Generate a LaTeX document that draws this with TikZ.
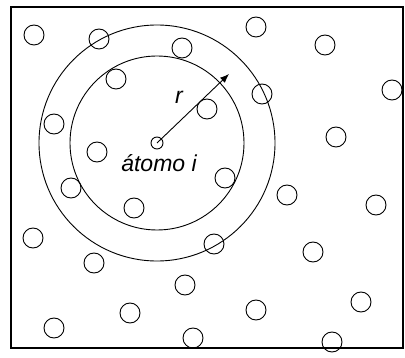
\documentclass[tikz,border=0pt]{standalone}
\usepackage{fontspec}
\newfontfamily\labelfont{Liberation Sans}
\usetikzlibrary{arrows.meta}

\begin{document}
\begin{tikzpicture}[
    x=1pt, y=-1pt,
    particle/.style={circle, draw, line width=0.9pt, minimum size=20pt, inner sep=0pt},
    central/.style={circle, draw, line width=0.9pt, minimum size=12pt, inner sep=0pt},
    shell/.style={draw, line width=0.9pt},
    arr/.style={-{Latex[length=9pt, width=7pt]}, line width=0.9pt},
    lbl/.style={font=\labelfont\itshape\fontsize{23}{26}\selectfont}
]
    \useasboundingbox (0,0) rectangle (405,358);
    \draw[line width=1.3pt] (11,7) rectangle (403,348);

    % Particles
    \foreach \px/\py [count=\k] in {34/35, 99/39, 182/48, 256/27, 325/45, 392/90,
        116/79, 262/94, 207/109, 54/124, 336/137, 97/152, 225/178, 71/188,
        287/195, 376/205, 134/208, 33/238, 214/244, 313/252, 94/263, 185/285,
        361/302, 130/313, 256/310, 54/328, 193/338, 332/342}
        \node[particle] (p\k) at (\px,\py) {};

    % Central atom and shells
    \node[central] (atomo) at (157,143) {};
    \draw[shell] (atomo.center) circle (87);
    \draw[shell] (atomo.center) circle (118);

    % Radius
    \coordinate (tip) at (229,74);
    \draw[arr] (atomo.center) -- (tip);
    \node[lbl] (rlab) at (179,97) {r};
    \node[lbl] (nome) at (159,163) {átomo i};
\end{tikzpicture}
\end{document}
